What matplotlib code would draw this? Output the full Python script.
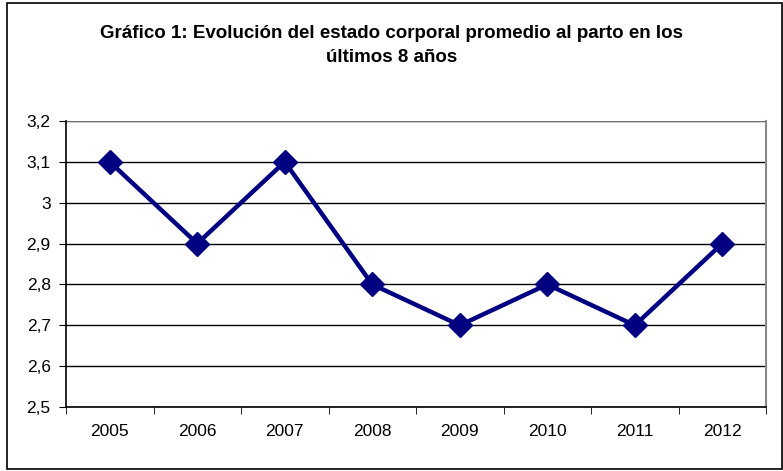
import matplotlib
matplotlib.use('Agg')
import matplotlib.pyplot as plt
from matplotlib.patches import Rectangle
import numpy as np

years = ['2005', '2006', '2007', '2008', '2009', '2010', '2011', '2012']
estado = [3.1, 2.9, 3.1, 2.8, 2.7, 2.8, 2.7, 2.9]
y_ticks = [2.5, 2.6, 2.7, 2.8, 2.9, 3.0, 3.1, 3.2]
y_labels = ['2,5', '2,6', '2,7', '2,8', '2,9', '3', '3,1', '3,2']

plt.rcParams['font.family'] = ['Liberation Sans', 'DejaVu Sans']

fig = plt.figure(figsize=(7.83, 4.71), dpi=100)
# borde exterior
fig.patches.append(Rectangle((7 / 783, 2 / 471), 775 / 783, 466 / 471, transform=fig.transFigure,
                             fill=False, edgecolor='black', linewidth=1.2))

ax = fig.add_axes([66 / 783, 1 - 407 / 471, 700 / 783, 286 / 471])
x = np.arange(len(years))
ax.plot(x, estado, color='#000080', linewidth=3.2, marker='D', markersize=12, zorder=3)

ax.set_xlim(-0.5, len(years) - 0.5)
ax.set_ylim(2.5, 3.2)
ax.set_yticks(y_ticks)
ax.set_yticklabels(y_labels, fontsize=12.5)
ax.set_xticks(x)
ax.set_xticklabels(years, fontsize=12.5)
ax.tick_params(axis='x', which='major', length=0, pad=12)
ax.set_xticks(np.arange(-0.5, len(years)), minor=True)
ax.tick_params(axis='x', which='minor', length=5, direction='out', color='black')
ax.tick_params(axis='y', length=5, direction='out', pad=6)

ax.grid(axis='y', color='black', linewidth=1)
ax.axhline(3.2, color='#888888', linewidth=1.2)
ax.spines['top'].set_visible(False)
ax.spines['right'].set_color('#888888')
ax.spines['right'].set_linewidth(1.5)
ax.spines['left'].set_linewidth(1.2)
ax.spines['bottom'].set_linewidth(1.2)

fig.text(0.5, 1 - 33 / 471, 'Gráfico 1: Evolución del estado corporal promedio al parto en los',
         ha='center', va='center', fontsize=13.5, fontweight='bold')
fig.text(0.5, 1 - 58 / 471, 'últimos 8 años', ha='center', va='center', fontsize=13.5, fontweight='bold')

fig.savefig('out.png', dpi=100)
